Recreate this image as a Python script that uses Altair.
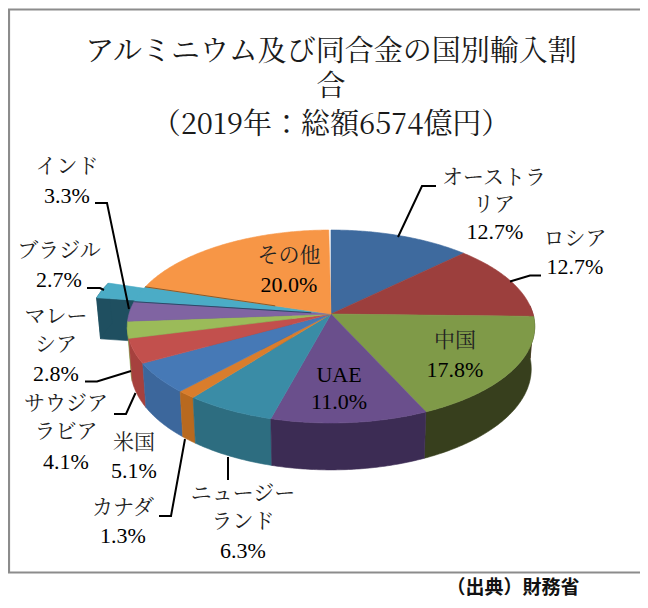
import math
import altair as alt
import pandas as pd

# ---- data ----
names = ["オーストラリア", "ロシア", "中国", "UAE", "ニュージーランド", "カナダ", "米国",
         "サウジアラビア", "マレーシア", "インド", "ブラジル", "その他"]
shares = [12.7, 12.7, 17.8, 11.0, 6.3, 1.3, 5.1, 4.1, 2.8, 3.3, 2.7, 20.0]
top_colors = ["#3e6a9e", "#9c3f3d", "#7f9a48", "#6a4f8c", "#3a8ca6", "#d97d2c",
              "#4679b6", "#c2504d", "#9bbb59", "#8064a2", "#4bacc6", "#f79646"]
wall_colors = ["#2c4a70", "#6e2c2a", "#373f1d", "#3c2c54", "#2d6d80", "#b8691f",
               "#3c679c", "#a6413e", "#84a04a", "#6d5589", "#1f4f60", "#d47f3a"]
exploded = "ブラジル"
front_range = (85.0, 262.0)

# ---- perspective of the disc, in page pixels ----
HUB_X, HUB_Y = 331.0, 314.0
K, A, C = 202.0, 54.2, -0.1295
EXPLODE = 0.2
SX, SY, DROP = 0.983, 1.047, 41.8


def project(u, v):
    d = 1 + C * v
    return HUB_X + K * u / d, (A * v + HUB_Y) / d


def lower(p):
    return HUB_X + SX * (p[0] - HUB_X), HUB_Y + DROP + SY * (p[1] - HUB_Y)


def arc(a0, a1, ox, oy):
    n = max(4, int((a1 - a0) * 1.5))
    pts = []
    for i in range(n + 1):
        t = math.radians(a0 + (a1 - a0) * i / n)
        pts.append(project(math.sin(t) + ox, -math.cos(t) + oy))
    return pts


def poly(points, fill):
    ring = [list(p) for p in points] + [list(points[0])]
    return {"type": "Feature", "geometry": {"type": "Polygon", "coordinates": [ring]},
            "properties": {"fill": fill}}


# angular extents from the shares
spans, cum = {}, 0.0
for n, s in zip(names, shares):
    spans[n] = (cum * 3.6, (cum + s) * 3.6)
    cum += s

features = []
hub = project(0, 0)
# exploded slice first, everything else paints over it
a0, a1 = spans[exploded]
mid = math.radians((a0 + a1) / 2)
ox, oy = EXPLODE * math.sin(mid), -EXPLODE * math.cos(mid)
ex = arc(a0, a1, ox, oy)
apex = project(ox, oy)
iw = names.index(exploded)
features.append(poly([apex, ex[0], lower(ex[0]), lower(apex)], wall_colors[iw]))
features.append(poly(ex + [lower(p) for p in reversed(ex)], wall_colors[iw]))
features.append(poly([apex] + ex, top_colors[iw]))
features.append(poly([hub] + arc(a0, a1, 0, 0), top_colors[iw]))

# walls of the front half, back to front
order = sorted(
    [i for i, n in enumerate(names) if n != exploded],
    key=lambda i: -math.cos(math.radians(sum(spans[names[i]]) / 2)),
)
for i in order:
    s0, s1 = spans[names[i]]
    s0, s1 = max(s0, front_range[0]), min(s1, front_range[1])
    if s1 <= s0:
        continue
    pts = arc(s0, s1, 0, 0)
    features.append(poly(pts + [lower(p) for p in reversed(pts)], wall_colors[i]))

# top faces
for i, n in enumerate(names):
    if n == exploded:
        continue
    s0, s1 = spans[n]
    features.append(poly([hub] + arc(s0, s1, 0, 0), top_colors[i]))

# ---- thin shadow edges beside the exploded slice ----
edge_o = arc(spans["その他"][0], spans["その他"][0] + 1, 0, 0)[0]
edge_i = arc(spans["インド"][1] - 1, spans["インド"][1], 0, 0)[-1]


def along(p, f):
    return [list(p), [p[0] + (hub[0] - p[0]) * f, p[1] + (hub[1] - p[1]) * f]]


edges = [
    (along(edge_o, 0.7), "#8a5a2a"),
    (along(edge_i, 0.9), "#2b4a68"),
]

# ---- leader lines (page pixels) ----
leaders = [
    [(436, 186), (422, 186), (398, 237)],
    [(541, 275.5), (530, 275.5), (510, 281.5)],
    [(95, 203), (107, 203), (129, 309)],
    [(87, 288), (100, 288), (104, 290)],
    [(85, 381.5), (97, 381.5), (131, 371)],
    [(114, 414), (126, 414), (135.5, 393)],
    [(159, 516), (171, 516), (185, 439)],
    [(228, 457), (228, 480)],
]
frame_line = [(648, 9.5), (9, 9.5), (9, 572.5), (648, 572.5)]

line_features = []
for coords, col in edges:
    line_features.append({"type": "Feature", "geometry": {"type": "LineString", "coordinates": coords},
                          "properties": {"c": col, "w": 1.0}})
for l in leaders:
    line_features.append({"type": "Feature",
                          "geometry": {"type": "LineString", "coordinates": [list(p) for p in l]},
                          "properties": {"c": "#000000", "w": 2.0}})
frame_feature = [{"type": "Feature",
                  "geometry": {"type": "LineString", "coordinates": [list(p) for p in frame_line]},
                  "properties": {"c": "#8c8c8c", "w": 2.2}}]

# ---- text ----
SERIF = "Noto Serif CJK JP, Liberation Serif, Noto Sans CJK JP"
title_lines = [("アルミニウム及び同合金の国別輸入割", 331, 52), ("合", 331, 87), ("（2019年：総額6574億円）", 331, 125)]
cjk_labels = [
    ("オーストラ", 494, 178), ("リア", 494, 205), ("ロシア", 575, 239), ("中国", 455, 341),
    ("その他", 289, 256), ("インド", 67, 167), ("ブラジル", 59, 251), ("マレー", 56, 317),
    ("シア", 56, 345), ("サウジア", 66, 404), ("ラビア", 66, 432), ("米国", 134, 443),
    ("カナダ", 123, 508), ("ニュージー", 243, 494), ("ランド", 243, 522),
]
num_labels = [
    ("12.7%", 495, 232), ("12.7%", 575, 267), ("17.8%", 455, 370), ("UAE", 339, 375),
    ("11.0%", 339, 402), ("20.0%", 289, 285), ("3.3%", 67, 196), ("2.7%", 59, 280),
    ("2.8%", 56, 374), ("4.1%", 66, 462), ("5.1%", 134, 471), ("1.3%", 123, 536), ("6.3%", 243, 551),
]
source_note = [("（出典）財務省", 513, 588)]


def frame(rows):
    return pd.DataFrame([{"t": t, "x": x - 8, "y": y - 8} for t, x, y in rows])


PROJ = dict(type="identity", scale=1, translate=[-8, -8])

faces = alt.Chart(alt.Data(values=features)).mark_geoshape(strokeWidth=0.6).encode(
    fill=alt.Fill("properties.fill:N", scale=None),
    stroke=alt.Stroke("properties.fill:N", scale=None),
).project(**PROJ)


def lines(feats):
    return alt.Chart(alt.Data(values=feats)).mark_geoshape(filled=False, strokeCap="butt", strokeJoin="miter").encode(
        stroke=alt.Stroke("properties.c:N", scale=None),
        strokeWidth=alt.StrokeWidth("properties.w:Q", scale=None),
    ).project(**PROJ)


def text(rows, size, font, color="#000000", weight="normal"):
    return alt.Chart(frame(rows)).mark_text(
        font=font, fontSize=size, color=color, fontWeight=weight, align="center", baseline="middle"
    ).encode(x=alt.X("x:Q", scale=None, axis=None), y=alt.Y("y:Q", scale=None, axis=None), text="t:N")


chart = alt.layer(
    lines(frame_feature),
    faces,
    lines(line_features),
    text(title_lines, 29, SERIF, "#1a1a1a"),
    text(cjk_labels, 21, SERIF, "#222222"),
    text(num_labels, 22, "Liberation Serif", "#000000"),
    text(source_note, 19, "Noto Sans CJK JP", "#111111", "bold"),
).properties(width=632, height=592, padding=0, autosize="none").configure_view(stroke=None)

chart.save("out.html", embed_options={"renderer": "svg", "actions": False})
